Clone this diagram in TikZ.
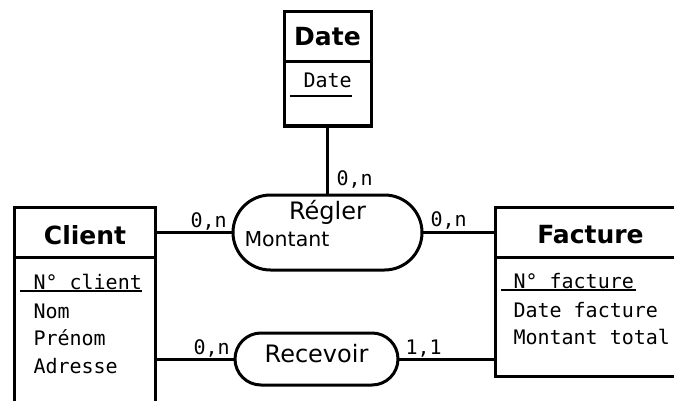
\documentclass[tikz,border=0pt]{standalone}
\usepackage{fontspec}
\setmainfont{DejaVu Sans}
\newfontfamily\monof{DejaVu Sans Mono}
\usetikzlibrary{shapes.misc}
\begin{document}
\begin{tikzpicture}[x=1pt,y=-1pt, line width=3pt,
  entity/.style={draw, rectangle, inner sep=0pt, outer sep=0pt, anchor=north west},
  assoc/.style={draw, rounded rectangle, inner sep=0pt, outer sep=0pt, anchor=center},
  etitle/.style={font=\bfseries\fontsize{25}{29}\selectfont, anchor=base, inner sep=0pt},
  attr/.style={font=\monof\fontsize{20}{24}\selectfont, anchor=base west, inner sep=0pt},
  card/.style={font=\monof\fontsize{20}{24}\selectfont, anchor=base west, inner sep=0pt},
  aname/.style={font=\fontsize{24}{28}\selectfont, anchor=base, inner sep=0pt},
  aattr/.style={font=\fontsize{20.5}{24}\selectfont, anchor=base west, inner sep=0pt},
  keyline/.style={line width=2pt}]
\useasboundingbox (0,0) rectangle (674,401);
\clip (0,0) rectangle (674,401);
\fill[white] (0,0) rectangle (674,401);

% Entities
\node[entity, minimum width=141pt, minimum height=240pt] (client) at (14,207) {};
\node[entity, minimum width=200pt, minimum height=169pt] (facture) at (495,207) {};
\node[entity, minimum width=87pt, minimum height=114pt] (date) at (284,12) {};

% header separators
\draw (client.north west) ++(0,50) coordinate (cl) -- (cl -| client.east);
\draw (facture.north west) ++(0,50) coordinate (fl) -- (fl -| facture.east);
\draw (date.north west) ++(0,50) coordinate (dl) -- (dl -| date.east);

% titles
\node[etitle] (tclient) at (85,244) {Client};
\node[etitle] (tfacture) at (590.5,243) {Facture};
\node[etitle] (tdate) at (327.5,46) {Date};

% attributes
\node[attr] (a1) at (32,289) {N° client};
\node[attr] (a2) at (32,318) {Nom};
\node[attr] (a3) at (32,345.5) {Prénom};
\node[attr] (a4) at (32,373) {Adresse};
\draw[keyline] (20,291) -- (142,291);

\node[attr] (f1) at (512,288) {N° facture};
\node[attr] (f2) at (512,317) {Date facture};
\node[attr] (f3) at (512,344) {Montant total};
\draw[keyline] (501,290) -- (636,290);

\node[attr] (d1) at (302,88) {Date};
\draw[keyline] (290,96) -- (352,96);

% Associations
\node[assoc, minimum width=189pt, minimum height=75pt] (regler) at (327.5,232.5) {};
\node[aname] (tregler) at (327.5,219) {Régler};
\node[aattr] (montant) at (243,246) {Montant};
\node[assoc, minimum width=163pt, minimum height=52pt] (recevoir) at (316.5,359) {};
\node[aname] (trecevoir) at (316.5,362) {Recevoir};

% Connectors
\draw (client.east |- regler.west) -- (regler.west);
\draw (regler.east) -- (regler.east -| facture.west);
\draw (client.east |- recevoir.west) -- (recevoir.west);
\draw (recevoir.east) -- (recevoir.east -| facture.west);
\draw (date.south) -- (date.south |- regler.north);

% cardinalities
\node[card] (c1) at (189,227) {0,n};
\node[card] (c2) at (429,226) {0,n};
\node[card] (c3) at (192,354) {0,n};
\node[card] (c4) at (404,354) {1,1};
\node[card] (c5) at (335,185) {0,n};
\end{tikzpicture}
\end{document}
